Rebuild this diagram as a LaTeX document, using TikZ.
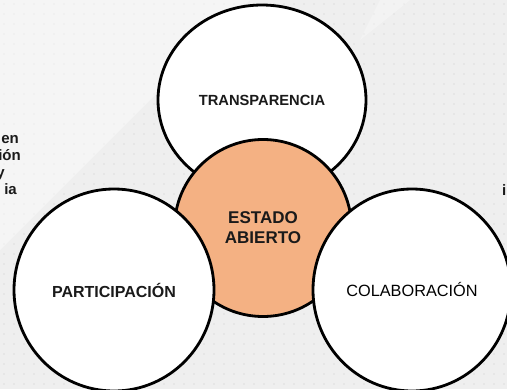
\documentclass[tikz,border=0pt]{standalone}
\usepackage{fontspec}
\setmainfont{Liberation Sans}
\usetikzlibrary{shapes.geometric,positioning}
\definecolor{bgpanel}{HTML}{EFEFEF}
\definecolor{bgdot}{HTML}{DDDDDD}
\definecolor{estadofill}{HTML}{F4B183}
\definecolor{labeltext}{HTML}{1A1A1A}

\begin{document}
\begin{tikzpicture}[x=1pt, y=-1pt,
        pillar/.style={ellipse, draw=black, line width=2.8pt, fill=white, inner sep=0pt,
            text=labeltext, font=\bfseries\fontsize{16}{19}\selectfont},
        fragment/.style={anchor=base east, inner sep=0pt, text=labeltext,
            font=\bfseries\fontsize{15}{18}\selectfont}]
        % Background
        \useasboundingbox (0,0) rectangle (507,389);
        \clip (0,0) rectangle (507,389);
        \fill[bgpanel] (0,0) rectangle (507,389);
        \foreach \i in {0,...,50}
            \foreach \j in {0,...,38}
                \fill[bgdot] (\i*10+4, \j*10+4) circle (0.9pt);
        \fill[white, opacity=0.4] (0,0) -- (250,0) -- (0,250) -- cycle;
        \fill[white, opacity=0.3] (380,0) -- (410,0) -- (360,40) -- cycle;

        % Cut-off side text
        \node[fragment] (frag1) at (19,143) {en};
        \node[fragment] (frag2) at (21,160) {ión};
        \node[fragment] (frag3) at (5,177) {y};
        \node[fragment] (frag4) at (17,194) {ia};
        \node[fragment, anchor=base west] (frag5) at (502,195) {i};

        % Circles
        \node[pillar, minimum width=208pt, minimum height=190pt,
            font=\bfseries\fontsize{14.7}{17}\selectfont] (transp) at (262,100) {TRANSPARENCIA};
        \node[pillar, circle, fill=estadofill, minimum size=177pt, align=center,
            font=\bfseries\fontsize{17}{20}\selectfont] (estado) at (263,228) {ESTADO\\ABIERTO};
        \node[pillar, minimum width=200pt, minimum height=202pt] (partic) at (114,290) {PARTICIPACIÓN};
        \node[pillar, minimum width=198pt, minimum height=202pt, text=black,
            font=\fontsize{16.3}{19}\selectfont] (colab) at (412,290) {COLABORACIÓN};
    \end{tikzpicture}
\end{document}
